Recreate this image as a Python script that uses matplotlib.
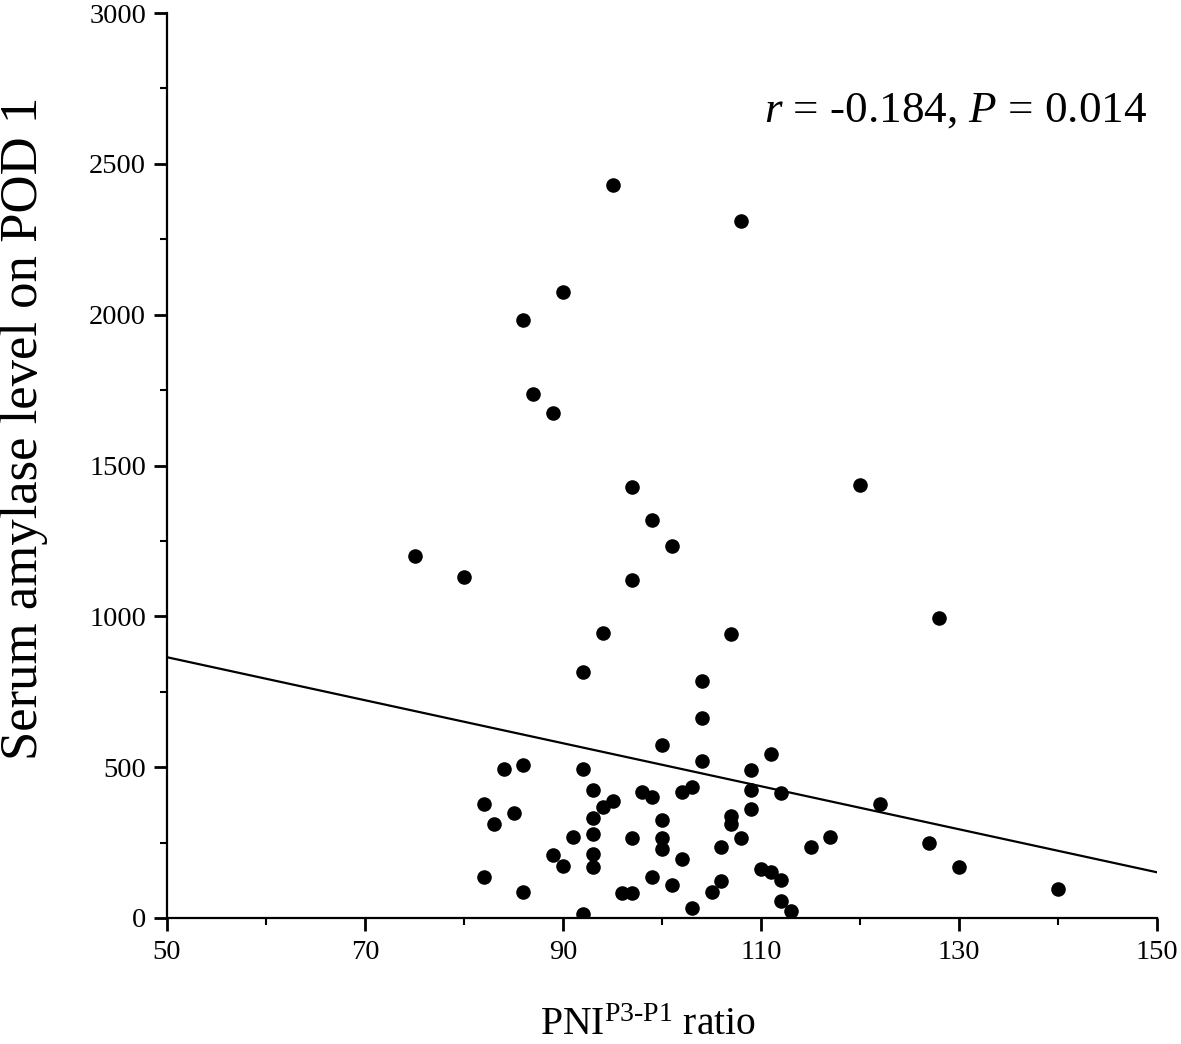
import numpy as np
import matplotlib
matplotlib.use("Agg")
import matplotlib.pyplot as plt

plt.rcParams['font.family'] = ['Liberation Serif', 'DejaVu Serif']
plt.rcParams['mathtext.fontset'] = 'custom'
plt.rcParams['mathtext.rm'] = 'Liberation Serif'
plt.rcParams['mathtext.it'] = 'Liberation Serif:italic'

# PNI ratio (x) vs serum amylase on POD 1 (y)
pni_ratio = [75, 80, 86, 90, 87, 89, 95, 108, 97, 99, 101, 97, 94, 107, 92, 104,
             104, 120, 128, 100, 104, 111, 86, 84, 92, 109, 82, 83, 85, 93, 94, 95,
             98, 99, 93, 93, 91, 102, 103, 100, 97, 100, 100, 107, 107, 109, 109, 112,
             108, 106, 115, 117, 122, 127, 130, 140, 89, 90, 93, 93, 82, 86, 92, 96,
             97, 99, 102, 101, 103, 105, 106, 110, 111, 112, 112, 113]
amylase = [1200, 1130, 1982, 2075, 1737, 1674, 2430, 2310, 1429, 1319, 1233, 1120, 945, 941, 815, 786,
           663, 1435, 994, 573, 520, 544, 507, 494, 494, 490, 377, 311, 349, 424, 367, 388,
           418, 402, 331, 278, 270, 419, 435, 325, 265, 265, 229, 339, 311, 424, 361, 415,
           266, 236, 235, 268, 378, 249, 169, 96, 209, 172, 212, 170, 136, 87, 13, 83,
           83, 137, 196, 110, 33, 87, 122, 162, 152, 126, 57, 23]

# regression line as drawn
fit_x = [50, 150]
fit_intercept = 1221
fit_slope = -7.13

fig = plt.figure(figsize=(11.81, 10.44), dpi=100)
ax = fig.add_axes([0.1414, 0.1207, 0.8383, 0.8668])

ax.scatter(pni_ratio, amylase, s=110, color='black', zorder=3, linewidths=0)
fx = np.array(fit_x)
ax.plot(fx, fit_intercept + fit_slope * fx, color='black', lw=1.6)

ax.set_xlim(50, 150)
ax.set_ylim(0, 3000)
ax.set_xticks(np.arange(50, 151, 20))
ax.set_xticks(np.arange(60, 150, 20), minor=True)
ax.set_yticks(np.arange(0, 3001, 500))
ax.set_yticks(np.arange(250, 3000, 500), minor=True)

for s in ['top', 'right']:
    ax.spines[s].set_visible(False)
for s in ['left', 'bottom']:
    ax.spines[s].set_linewidth(1.6)

ax.tick_params(which='major', direction='out', length=9.5, width=2)
ax.tick_params(which='minor', direction='out', length=5, width=1.5)
ax.tick_params(axis='x', labelsize=20.5, pad=6)
ax.tick_params(axis='y', labelsize=20.5, pad=5.5)

ax.set_xlabel(r'PNI$^{\mathrm{P3\text{-}P1}}$ ratio', fontsize=28.5)
ax.xaxis.label.set_va('baseline')
ax.xaxis.set_label_coords(0.486, -0.129)
ax.set_ylabel('Serum amylase level on POD 1', fontsize=38)
ax.yaxis.set_label_coords(-0.12, 0.541)

ax.text(0.99, 0.88, r'$\mathit{r}$ = -0.184, $\mathit{P}$ = 0.014', transform=ax.transAxes,
        ha='right', va='baseline', fontsize=32.5)

fig.savefig('out.png', dpi=100)
